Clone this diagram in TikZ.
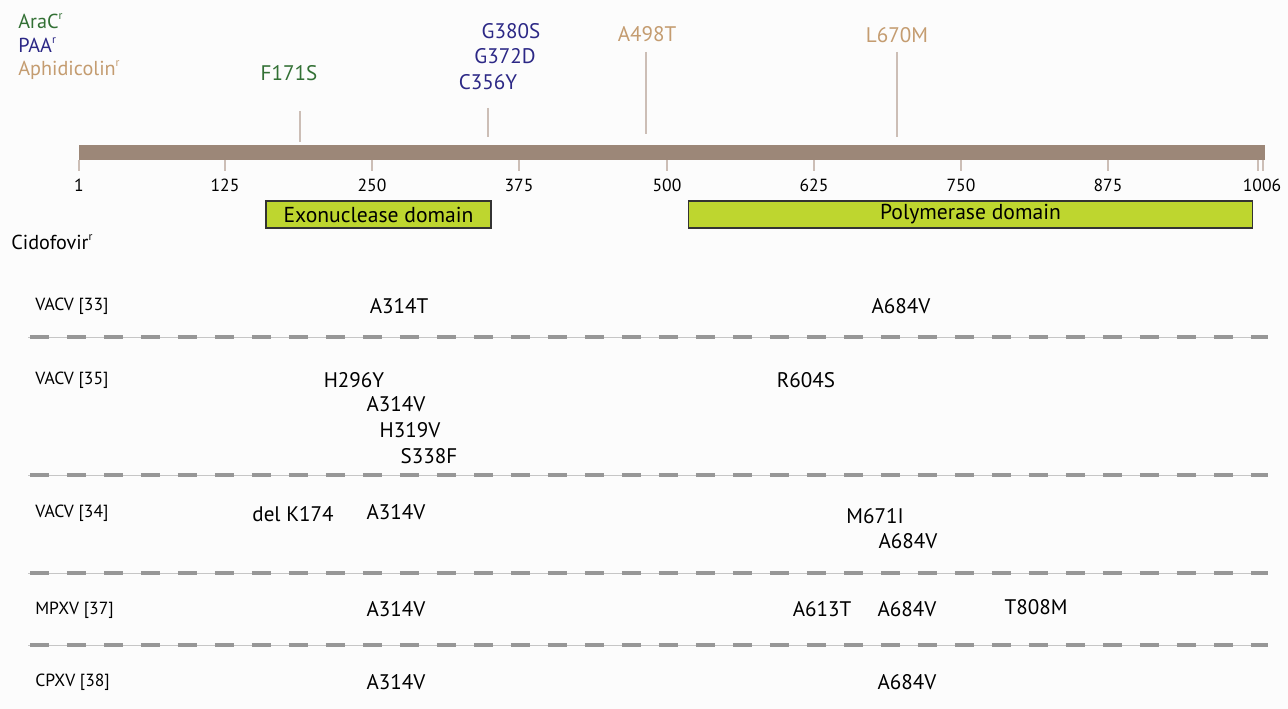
\documentclass[tikz,border=0pt]{standalone}
\usepackage{fontspec}
\setmainfont{PT Sans}
\usetikzlibrary{positioning}

\definecolor{bg}{RGB}{252,252,252}
\definecolor{aracgreen}{RGB}{50,112,52}
\definecolor{paablue}{RGB}{44,40,134}
\definecolor{aphitan}{RGB}{196,156,112}
\definecolor{barbrown}{RGB}{156,135,120}
\definecolor{ticktan}{RGB}{204,190,182}
\definecolor{domainlime}{RGB}{190,214,47}
\definecolor{sepgray}{RGB}{140,140,140}

\newcommand{\resr}{\raisebox{0.9ex}{\fontsize{6.5}{6.5}\selectfont r}}

\begin{document}
\begin{tikzpicture}[x=0.02cm, y=-0.02cm,
    mut/.style={inner sep=0pt, font=\fontsize{12}{14}\selectfont},
    strain/.style={inner sep=0pt, anchor=base west, font=\fontsize{10}{12}\selectfont},
    legend/.style={inner sep=0pt, anchor=base west, font=\fontsize{11.5}{13}\selectfont},
    domainbox/.style={draw=black!80, line width=0.6pt, fill=domainlime, inner sep=0pt,
        font=\fontsize{12.3}{14}\selectfont},
    tick/.style={ticktan, line width=1.3pt},
    separator/.style={sepgray!50, line width=0.5pt}]
    \useasboundingbox[fill=bg] (0,0) rectangle (1288,709);

    %define the legend
    \node[legend, aracgreen] (arac) at (18,29) {AraC\resr};
    \node[legend, paablue] (paa) at (18,53) {PAA\resr};
    \node[legend, aphitan] (aphi) at (18,76) {Aphidicolin\resr};

    %define the protein bar and its scale
    \fill[barbrown] (79,145) rectangle (1265,160);
    \foreach \pos/\lab in {79/1, 225/125, 372/250, 519/375, 667/500, 814/625, 961/750, 1108/875} {
        \draw[tick] (\pos,160) -- (\pos,171);
        \node[mut, font=\fontsize{10}{12}\selectfont] (s\lab) at (\pos,185) {\lab};
    }
    \draw[tick] (1258,160) -- (1258,171);
    \draw[tick] (1263,160) -- (1263,171);
    \node[mut, font=\fontsize{10}{12}\selectfont] (s1006) at (1262,185) {1006};

    %define the resistance mutations above the bar
    \node[mut, aracgreen] (f171s) at (289,73) {F171S};
    \node[mut, paablue] (g380s) at (511,31) {G380S};
    \node[mut, paablue] (g372d) at (505,56) {G372D};
    \node[mut, paablue] (c356y) at (488,82) {C356Y};
    \node[mut, aphitan] (a498t) at (647,34) {A498T};
    \node[mut, aphitan] (l670m) at (897,35) {L670M};
    \coordinate (t171) at (300,111);
    \coordinate (k171) at (300,142);
    \coordinate (t356) at (488,108);
    \coordinate (k356) at (488,137);
    \coordinate (t498) at (646,52);
    \coordinate (k498) at (646,134);
    \coordinate (t670) at (897,52);
    \coordinate (k670) at (897,137);

    %define the links
    \draw[tick] (t171) -- (k171);
    \draw[tick] (t356) -- (k356);
    \draw[tick] (t498) -- (k498);
    \draw[tick] (t670) -- (k670);

    %define the domains
    \node[domainbox, minimum width=4.5cm, minimum height=0.54cm] (exo) at (378.5,214.5) {Exonuclease domain};
    \node[domainbox, minimum width=11.3cm, minimum height=0.54cm] (pol) at (970.5,214.5) {Polymerase domain};

    \node[legend, black] (cido) at (11,250) {Cidofovir\resr};

    %define the separators
    \foreach \y in {337, 475, 573, 645} {
        \draw[separator] (28,\y) -- (1268,\y);
        \draw[sepgray!90, line width=2pt, dash pattern=on 0.38cm off 0.36cm] (30,\y) -- (1268,\y);
    }

    %define the strains
    \node[strain] (vacv33) at (35,311) {VACV [33]};
    \node[strain] (vacv35) at (35,385) {VACV [35]};
    \node[strain] (vacv34) at (35,517) {VACV [34]};
    \node[strain] (mpxv37) at (35,614) {MPXV [37]};
    \node[strain] (cpxv38) at (35,686) {CPXV [38]};

    %define the cidofovir mutations
    \node[mut] (r1a314t) at (399,306) {A314T};
    \node[mut] (r1a684v) at (901,306) {A684V};

    \node[mut] (r2h296y) at (354,380) {H296Y};
    \node[mut] (r2a314v) at (396,404) {A314V};
    \node[mut] (r2h319v) at (410,430) {H319V};
    \node[mut] (r2s338f) at (429,456) {S338F};
    \node[mut] (r2r604s) at (806,380) {R604S};

    \node[mut] (r3delk) at (293,514) {del K174};
    \node[mut] (r3a314v) at (396,512) {A314V};
    \node[mut] (r3m671i) at (875,516) {M671I};
    \node[mut] (r3a684v) at (908,541) {A684V};

    \node[mut] (r4a314v) at (396,609) {A314V};
    \node[mut] (r4a613t) at (822,609) {A613T};
    \node[mut] (r4a684v) at (907,609) {A684V};
    \node[mut] (r4t808m) at (1036,607) {T808M};

    \node[mut] (r5a314v) at (396,682) {A314V};
    \node[mut] (r5a684v) at (907,682) {A684V};
\end{tikzpicture}
\end{document}
